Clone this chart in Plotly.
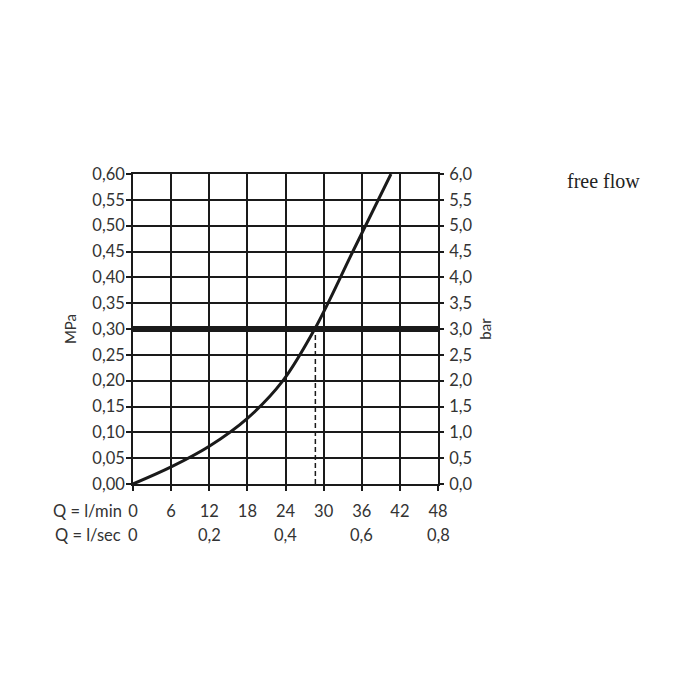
import plotly.graph_objects as go

# ---- data ----
flow_lmin = [0, 6, 12, 18, 23.6, 28.6, 34.6, 40.6]
pressure_mpa = [0, 0.033, 0.073, 0.127, 0.20, 0.30, 0.45, 0.60]

ref_pressure = 0.30
ref_flow = 28.7

x_ticks = [0, 6, 12, 18, 24, 30, 36, 42, 48]
x_ticktext = ["0", "6", "12", "18", "24", "30", "36", "42", "48"]
lsec_pos = [0, 12, 24, 36, 48]
lsec_text = ["0", "0,2", "0,4", "0,6", "0,8"]
mpa_ticks = [0, 0.05, 0.10, 0.15, 0.20, 0.25, 0.30, 0.35, 0.40, 0.45, 0.50, 0.55, 0.60]
mpa_text = ["0,00", "0,05", "0,10", "0,15", "0,20", "0,25", "0,30", "0,35", "0,40", "0,45", "0,50", "0,55", "0,60"]
bar_ticks = [0, 0.5, 1.0, 1.5, 2.0, 2.5, 3.0, 3.5, 4.0, 4.5, 5.0, 5.5, 6.0]
bar_text = ["0,0", "0,5", "1,0", "1,5", "2,0", "2,5", "3,0", "3,5", "4,0", "4,5", "5,0", "5,5", "6,0"]

FONT = "Lato"
TXT = "#333333"
INK = "#1a1a1a"
FS = 16.5

ML, MR, MT, MB = 125, 270, 166, 224
PW, PH = 700 - ML - MR, 700 - MT - MB

fig = go.Figure()

# reference horizontal line at 0.30 MPa
fig.add_trace(go.Scatter(x=[0, 48], y=[ref_pressure, ref_pressure], mode="lines",
                         line=dict(color=INK, width=6), hoverinfo="skip", showlegend=False))
# dashed drop line
fig.add_trace(go.Scatter(x=[ref_flow, ref_flow], y=[0, ref_pressure], mode="lines",
                         line=dict(color=INK, width=1.5, dash="5px,3px"), hoverinfo="skip", showlegend=False))
# curve
fig.add_trace(go.Scatter(x=flow_lmin, y=pressure_mpa, mode="lines",
                         line=dict(color=INK, width=3, shape="spline", smoothing=1.0),
                         showlegend=False))
# dummy trace for right axis
fig.add_trace(go.Scatter(x=[None], y=[None], yaxis="y2", showlegend=False))

axis_common = dict(showgrid=True, gridcolor=INK, gridwidth=1.8, showline=True, linecolor=INK,
                   linewidth=1.8, ticks="outside", ticklen=5, tickcolor=INK, tickwidth=1.5,
                   zeroline=False, tickfont=dict(family=FONT, size=FS, color=TXT))

fig.update_layout(
    width=700, height=700,
    margin=dict(l=ML, r=MR, t=MT, b=MB, autoexpand=False),
    paper_bgcolor="white", plot_bgcolor="white",
    font=dict(family=FONT, color=TXT),
    xaxis=dict(range=[0, 48], tickvals=x_ticks, ticktext=x_ticktext, mirror=True,
               ticklabelstandoff=6, **axis_common),
    yaxis=dict(range=[0, 0.6], tickvals=mpa_ticks, ticktext=mpa_text, mirror=True,
               ticklabelstandoff=-2,
               title=dict(text="MPa", font=dict(family=FONT, size=15, color=TXT), standoff=12),
               **axis_common),
    yaxis2=dict(range=[0, 6], tickvals=bar_ticks, ticktext=bar_text, overlaying="y", side="right",
                showgrid=False, showline=False, ticks="outside", ticklen=5, tickcolor=INK, tickwidth=1.5,
                zeroline=False, tickfont=dict(family=FONT, size=FS, color=TXT), ticklabelstandoff=2,
                title=dict(text="bar", font=dict(family=FONT, size=15, color=TXT), standoff=8)),
)

Y_MIN_ROW = -0.087
Y_SEC_ROW = -0.163

# second row of x labels (l/sec)
for xv, t in zip(lsec_pos, lsec_text):
    fig.add_annotation(x=xv, y=Y_SEC_ROW, xref="x", yref="paper", text=t, showarrow=False,
                       font=dict(family=FONT, size=FS, color=TXT), xanchor="center", yanchor="middle")

fig.add_annotation(x=0, y=Y_MIN_ROW, xref="x", yref="paper", text="Q = l/min", showarrow=False,
                   font=dict(family=FONT, size=FS, color=TXT), xanchor="right", yanchor="middle", xshift=-9)
fig.add_annotation(x=0, y=Y_SEC_ROW, xref="x", yref="paper", text="Q = l/sec", showarrow=False,
                   font=dict(family=FONT, size=FS, color=TXT), xanchor="right", yanchor="middle", xshift=-10)

# "free flow" label, centre at figure pixel (595, 173)
fig.add_annotation(x=(595 - ML) / PW, y=(700 - MB - 173) / PH, xref="paper", yref="paper",
                   text="free flow", showarrow=False, xanchor="center", yanchor="middle",
                   font=dict(family="Liberation Serif", size=20, color="#222222"))

fig.write_html("out.html")
